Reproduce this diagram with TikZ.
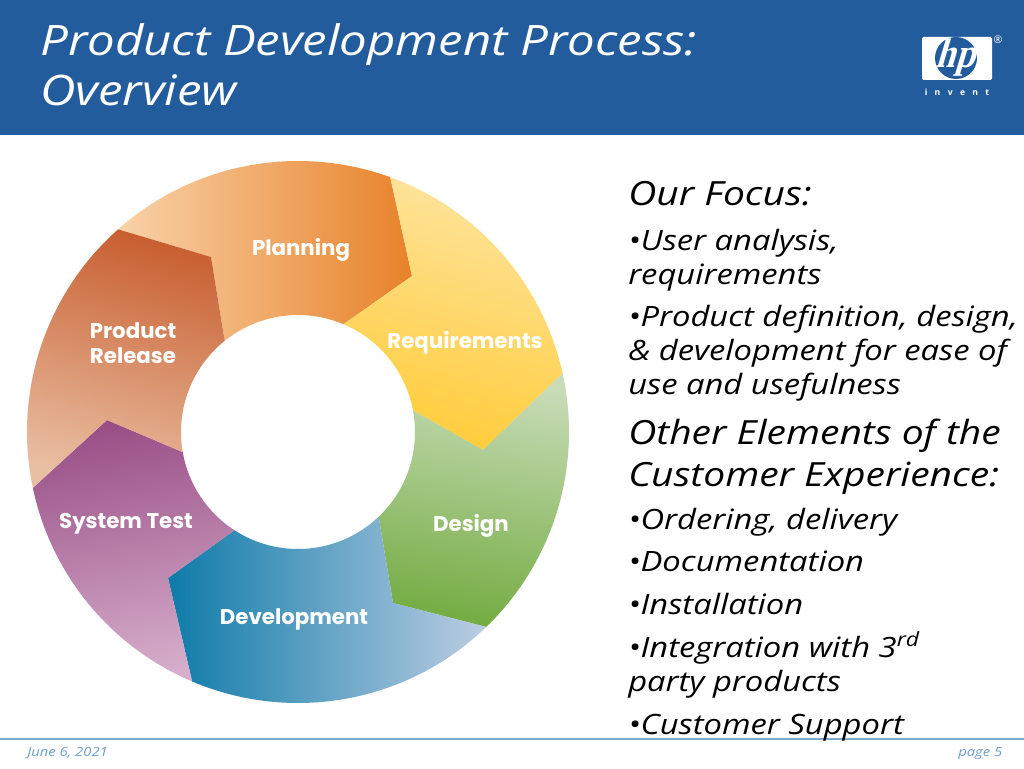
\documentclass[tikz,border=0pt]{standalone}
\usepackage{fontspec}
\usetikzlibrary{calc}
\setmainfont{Open Sans}
\newfontfamily\handfont[FakeStretch=1.17]{Open Sans}
\newfontfamily\wedgefont{Poppins}
\newfontfamily\logofont[FakeStretch=0.85, FakeSlant=0.3]{Liberation Serif}
\definecolor{headerblue}{HTML}{225C9C}
\definecolor{footerline}{HTML}{7FAACB}
\definecolor{footertext}{HTML}{6F9FCB}
\tikzset{
  titletext/.style={anchor=base west, inner sep=0pt, text=white, font=\handfont\itshape\fontsize{31.5}{33}\selectfont},
  headtext/.style={anchor=base west, inner sep=0pt, text=black, font=\handfont\itshape\fontsize{25}{25}\selectfont},
  bodytext/.style={anchor=base west, inner sep=0pt, text=black, font=\handfont\itshape\fontsize{21}{21}\selectfont},
  foottext/.style={anchor=base west, inner sep=0pt, text=footertext, font=\handfont\itshape\fontsize{9.5}{9.5}\selectfont},
  wedgetext/.style={text=white, align=center, font=\wedgefont\bfseries\fontsize{16}{19}\selectfont},
}
\begin{document}
\begin{tikzpicture}[x=0.75pt, y=0.75pt]

  \useasboundingbox (0,0) rectangle (1024,768);
  \fill[white] (0,0) rectangle (1024,768);

  % header and footer
  \fill[headerblue] (0,633) rectangle (1024,768);
  \draw[footerline, line width=1.2pt] (0,29) -- (1024,29);

  % title
  \node[titletext] (title1) at (40,712) {Product Development Process:};
  \node[titletext] (title2) at (40,662) {Overview};

  % logo
  \fill[white, rounded corners=1pt] (922,688) rectangle (992,731);
  \begin{scope}
    \clip (922,688) rectangle (992,731);
    \fill[headerblue] (956,710) circle (21);
  \end{scope}
  \node[anchor=base, inner sep=0pt, text=white, font=\logofont\bfseries\fontsize{31}{31}\selectfont] (hpmark) at (955,700) {hp};
  \node[text=white, font=\fontsize{8}{8}\selectfont] (regmark) at (998,728) {®};
  \node[text=white, font=\bfseries\fontsize{6.5}{6.5}\selectfont] (invent) at (957,676) {i\hspace{5.5pt}n\hspace{5.5pt}v\hspace{5.5pt}e\hspace{5.5pt}n\hspace{5.5pt}t};

  % ring centre
  \coordinate (ctr) at (298,336);

  % Planning
  \shade[left color={rgb,255:red,248;green,210;blue,168}, right color={rgb,255:red,232;green,130;blue,42}]
    ($(ctr)+(131.6:271)$) arc[start angle=131.6, end angle=70.1, radius=271]
    -- (412,492) -- ($(ctr)+(67.1:117)$) arc[start angle=67.1, end angle=128.8, radius=117]
    -- (211,511) -- cycle;

  % Requirements
  \shade[top color={rgb,255:red,254;green,228;blue,157}, bottom color={rgb,255:red,255;green,204;blue,58}, shading angle=-15]
    ($(ctr)+(70.1:271)$) arc[start angle=70.1, end angle=12.5, radius=271]
    -- (483,318) -- ($(ctr)+(10.6:117)$) arc[start angle=10.6, end angle=67.1, radius=117]
    -- (412,492) -- cycle;

  % Design
  \shade[top color={rgb,255:red,200;green,220;blue,184}, middle color={rgb,255:red,136;green,182;blue,96}, bottom color={rgb,255:red,116;green,172;blue,66}, shading angle=-10]
    ($(ctr)+(12.5:271)$) arc[start angle=12.5, end angle=-46, radius=271]
    -- (393,165) -- ($(ctr)+(-46.4:117)$) arc[start angle=-46.4, end angle=10.6, radius=117]
    -- (483,318) -- cycle;

  % Development
  \shade[left color={rgb,255:red,14;green,123;blue,169}, middle color={rgb,255:red,104;green,149;blue,190}, right color={rgb,255:red,188;green,205;blue,226}]
    ($(ctr)+(-46:271)$) arc[start angle=-46, end angle=-113, radius=271]
    -- (168,190) -- ($(ctr)+(-122.9:117)$) arc[start angle=-122.9, end angle=-46.4, radius=117]
    -- (393,165) -- cycle;

  % System Test
  \shade[top color={rgb,255:red,154;green,80;blue,135}, bottom color={rgb,255:red,214;green,174;blue,203}, shading angle=10]
    ($(ctr)+(247:271)$) arc[start angle=247, end angle=191.9, radius=271]
    -- (107,348) -- ($(ctr)+(189.9:117)$) arc[start angle=189.9, end angle=237.1, radius=117]
    -- (168,190) -- cycle;

  % Product Release
  \shade[top color={rgb,255:red,200;green,95;blue,48}, middle color={rgb,255:red,207;green,118;blue,76}, bottom color={rgb,255:red,233;green,191;blue,163}, shading angle=-15]
    ($(ctr)+(191.9:271)$) arc[start angle=191.9, end angle=131.6, radius=271]
    -- (211,511) -- ($(ctr)+(128.8:117)$) arc[start angle=128.8, end angle=189.9, radius=117]
    -- (107,348) -- cycle;

  % ring labels
  \node[wedgetext] (planning) at (301,518) {Planning};
  \node[wedgetext] (requirements) at (465,425) {Requirements};
  \node[wedgetext] (design) at (471,242) {Design};
  \node[wedgetext] (development) at (294,149) {Development};
  \node[wedgetext] (systemtest) at (126,244) {System Test};
  \node[wedgetext] (productrelease) at (133,425) {Product\\Release};

  % right column
  \node[headtext] (focus) at (628,562.5) {Our Focus:};
  \node[bodytext] (user1) at (628,517.5) {•User analysis,};
  \node[bodytext] (user2) at (628,483.5) {requirements};
  \node[bodytext] (prod1) at (628,441.5) {•Product definition, design,};
  \node[bodytext] (prod2) at (628,407.5) {\& development for ease of};
  \node[bodytext] (prod3) at (628,373.5) {use and usefulness};
  \node[headtext] (other1) at (628,323.5) {Other Elements of the};
  \node[headtext] (other2) at (628,281.5) {Customer Experience:};
  \node[bodytext] (order) at (628,238.5) {•Ordering, delivery};
  \node[bodytext] (docs) at (628,196.5) {•Documentation};
  \node[bodytext] (install) at (628,154) {•Installation};
  \node[bodytext] (integ1) at (628,111) {•Integration with 3\textsuperscript{rd}};
  \node[bodytext] (integ2) at (628,77) {party products};
  \node[bodytext] (support) at (628,34) {•Customer Support};

  % footer text
  \node[foottext] (date) at (27,12) {June 6, 2021};
  \node[foottext] (page) at (958,12) {page 5};

\end{tikzpicture}
\end{document}
